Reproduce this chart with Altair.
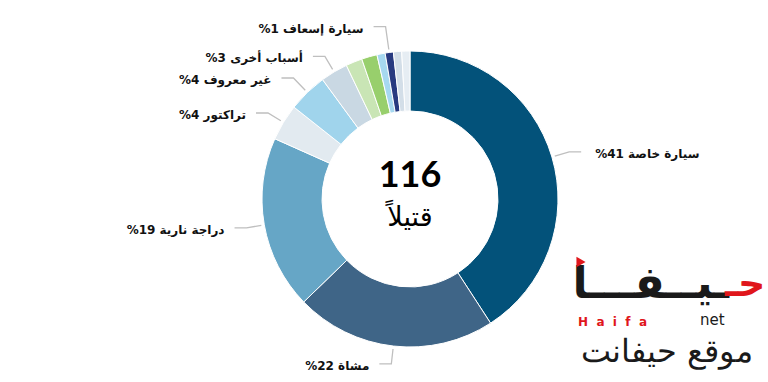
import math
import altair as alt
import pandas as pd

# ---- data ----
categories = ["سيارة خاصة", "مشاة", "دراجة نارية", "تراكتور", "غير معروف", "أسباب أخرى",
              "فئة أ", "فئة ب", "فئة ج", "سيارة إسعاف", "فئة د", "فئة هـ"]
values = [41, 22, 19, 4, 4.3, 3, 1.8, 1.7, 0.9, 0.9, 0.9, 0.9]
label_pcts = [41, 22, 19, 4, 4, 3, None, None, None, 1, None, None]
colors = ["#03527A", "#3F6587", "#66A6C6", "#E2EAF0", "#A0D4EC", "#C9D8E3",
          "#C9E5B5", "#98CF6C", "#A6D8F0", "#283A80", "#D3DEE8", "#E6EDF3"]
total_killed = "116"
center_word = "قتيلاً"

# ---- layout (pixels) ----
CX, CY = 410, 199
R_OUT, R_IN = 148, 88
R_START, HLEN = 151, 12
elbow_r = {0: 166, 1: 166, 2: 166, 3: 166, 4: 168, 5: 166, 9: 174}
gap = {"R": 14, "L": 10}

df = pd.DataFrame({"cat": categories, "value": values, "order": list(range(len(values))),
                   "color": colors})

# leader lines and labels derived from slice angles
tot = sum(values)
cum = 0.0
line_rows, lab_rows = [], []
for i, v in enumerate(values):
    mid = (cum + v / 2) / tot * 2 * math.pi
    cum += v
    if label_pcts[i] is None:
        continue
    s, c = math.sin(mid), math.cos(mid)
    re = elbow_r[i]
    p0 = (CX + R_START * s, CY - R_START * c)
    p1 = (CX + re * s, CY - re * c)
    side = 1 if s >= 0 else -1
    sd = "R" if side > 0 else "L"
    p2 = (p1[0] + side * HLEN, p1[1])
    for k, p in enumerate([p0, p1, p2]):
        line_rows.append({"id": i, "seq": k, "px": p[0], "py": p[1]})
    lab_rows.append({"id": i, "tx": p2[0] + side * gap[sd], "ty": p1[1] + 2,
                     "side": sd,
                     "text": f"%{label_pcts[i]} {categories[i]}"})
lines = pd.DataFrame(line_rows)
labs = pd.DataFrame(lab_rows)

arc = alt.Chart(df).mark_arc(outerRadius=R_OUT, innerRadius=R_IN, stroke="white",
                             strokeWidth=1).encode(
    theta=alt.Theta("value:Q", stack=True),
    order=alt.Order("order:Q"),
    color=alt.Color("color:N", scale=None),
    x=alt.value(CX), y=alt.value(CY),
)

leader = alt.Chart(lines).mark_line(color="#BFBFBF", strokeWidth=1.3).encode(
    x=alt.X("px:Q", scale=None), y=alt.Y("py:Q", scale=None),
    detail="id:N", order="seq:Q")

def text_layer(side, align):
    return alt.Chart(labs).transform_filter(alt.datum.side == side).mark_text(
        align=align, baseline="middle", font="DejaVu Sans", fontWeight="bold",
        fontSize=12, color="#111111").encode(
        x=alt.X("tx:Q", scale=None), y=alt.Y("ty:Q", scale=None), text="text:N")

center_df = pd.DataFrame({"t": [total_killed, center_word], "cx": [CX, CX],
                          "cy": [176, 218]})
num = alt.Chart(center_df.iloc[[0]]).mark_text(
    font="Lato", fontWeight="bold", fontSize=36, color="#000000", baseline="middle").encode(
    x=alt.X("cx:Q", scale=None), y=alt.Y("cy:Q", scale=None), text="t:N")
word = alt.Chart(center_df.iloc[[1]]).mark_text(
    font="DejaVu Sans", fontSize=27, color="#000000", baseline="middle").encode(
    x=alt.X("cx:Q", scale=None), y=alt.Y("cy:Q", scale=None), text="t:N")

# ---- watermark logo ----
NB = "\u00a0\u00a0"
logo = pd.DataFrame({
    "t": ["ـيــفـــا", "حـ", NB.join("Haifa"), "net", "موقع حيفانت", ""],
    "lx": [729, 725, 578, 700, 667, 581],
    "ly": [285, 285, 322, 320, 352, 262],
})
def logo_text(idx, **kw):
    return alt.Chart(logo.iloc[[idx]]).mark_text(baseline="middle", **kw).encode(
        x=alt.X("lx:Q", scale=None), y=alt.Y("ly:Q", scale=None), text="t:N")

logo_black = logo_text(0, align="right", font="DejaVu Sans", fontWeight="bold",
                       fontSize=44, color="#1A1A1A")
logo_red = logo_text(1, align="left", font="DejaVu Sans", fontWeight="bold",
                     fontSize=38, color="#E0161B")
logo_haifa = logo_text(2, align="left", font="DejaVu Sans", fontWeight="bold",
                       fontSize=12, color="#E0161B")
logo_net = logo_text(3, align="left", font="DejaVu Sans", fontSize=15, color="#1A1A1A")
logo_site = logo_text(4, align="center", font="DejaVu Sans", fontWeight=300,
                      fontSize=32, color="#1A1A1A")
logo_tri = alt.Chart(logo.iloc[[5]]).mark_point(
    shape="triangle-right", filled=True, color="#E0161B", size=110, opacity=1).encode(
    x=alt.X("lx:Q", scale=None), y=alt.Y("ly:Q", scale=None))

chart = alt.layer(
    arc, leader, text_layer("R", "left"), text_layer("L", "right"), num, word,
    logo_black, logo_red, logo_haifa, logo_net, logo_site, logo_tri
).properties(
    width=768, height=382, padding=0, autosize=alt.AutoSizeParams(type="none"),
    background="white"
).configure_view(stroke=None)

chart.save("out.html", embed_options={"renderer": "svg", "actions": False})
